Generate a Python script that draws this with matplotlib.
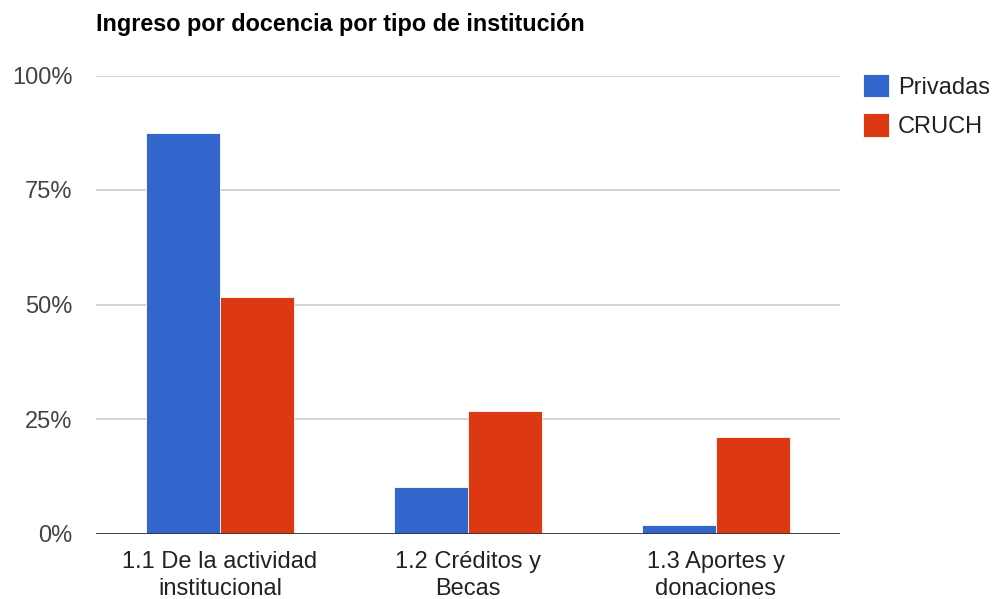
import matplotlib
matplotlib.use("Agg")
import matplotlib.pyplot as plt
import numpy as np

categories = ["1.1 De la actividad\ninstitucional", "1.2 Créditos y\nBecas", "1.3 Aportes y\ndonaciones"]
privadas = [87.4, 10.1, 1.8]
cruch = [51.6, 26.7, 21.0]
series_names = ["Privadas", "CRUCH"]
yticks = [0, 25, 50, 75, 100]
ytick_labels = ["0%", "25%", "50%", "75%", "100%"]
title = "Ingreso por docencia por tipo de institución"

plt.rcParams['font.family'] = ['Liberation Sans', 'DejaVu Sans']

fig = plt.figure(figsize=(9.95, 5.99), dpi=100)
ax = fig.add_axes([96/995, 1-533.5/599, (840-96)/995, (533.5-75.5)/599])

x = np.arange(len(categories))
w = 0.298
off = 0.151
ax.bar(x - off, privadas, width=w, color="#3366CC", edgecolor="white", linewidth=0.6, label=series_names[0], zorder=3)
ax.bar(x + off, cruch, width=w, color="#DC3912", edgecolor="white", linewidth=0.6, label=series_names[1], zorder=3)

ax.set_xlim(-0.5, 2.5)
ax.set_ylim(0, 100)
ax.set_yticks(yticks)
ax.set_yticklabels(ytick_labels)
ax.set_xticks(x)
ax.set_xticklabels(categories, linespacing=1.32)
for s in ax.spines.values():
    s.set_visible(False)
ax.grid(axis='y', color="#CCCCCC", linewidth=1.2, zorder=0)
ax.axhline(0, color="#333333", linewidth=2, zorder=4)
ax.tick_params(axis='y', length=0, pad=17, labelsize=17, labelcolor="#444444")
ax.tick_params(axis='x', length=0, pad=12.5, labelsize=17, labelcolor="#222222")

fig.text(96/995, 1-25/599, title, fontsize=16.8, fontweight='bold', va='center', ha='left', color="#000000")

leg = ax.legend(loc='upper left', bbox_to_anchor=(863/995, 1-74/599), bbox_transform=fig.transFigure,
                frameon=False, fontsize=17, handlelength=1.08, handleheight=1.15,
                handletextpad=0.4, labelspacing=0.62, borderpad=0, borderaxespad=0)
for t in leg.get_texts():
    t.set_color("#222222")

fig.savefig("out.png", dpi=100)
